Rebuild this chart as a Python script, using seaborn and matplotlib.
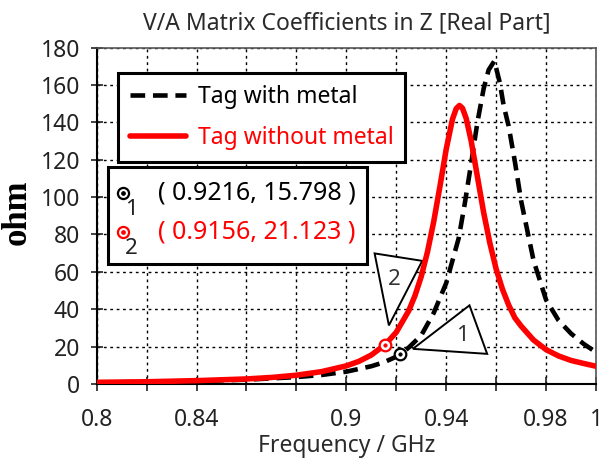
import matplotlib
matplotlib.use("Agg")
import matplotlib.pyplot as plt
import seaborn as sns
import pandas as pd
from matplotlib.patches import Polygon, Rectangle

# ---------------- data ----------------
red_freq = [0.80, 0.82, 0.84, 0.86, 0.87, 0.88, 0.89, 0.90, 0.905, 0.91, 0.9156,
            0.92, 0.925, 0.9275, 0.93, 0.9325, 0.935, 0.9375, 0.94, 0.9425, 0.944,
            0.9453, 0.9465, 0.948, 0.95, 0.9525, 0.955, 0.9575, 0.96, 0.9625, 0.965,
            0.9675, 0.97, 0.975, 0.98, 0.985, 0.99, 0.995, 1.00]
red_ohm = [0.9, 1.2, 1.8, 2.7, 3.5, 4.7, 6.6, 9.7, 12.1, 15.5, 21.123,
           27.7, 39.2, 47.3, 57.5, 70.7, 86.9, 105.8, 125.6, 141.6, 147.3,
           149.0, 147.6, 142.1, 130.0, 110.9, 91.7, 75.3, 61.5, 50.8, 42.3,
           35.4, 31.0, 23.5, 18.4, 15.0, 12.6, 11.0, 9.5]

blk_freq = [0.80, 0.82, 0.84, 0.86, 0.88, 0.89, 0.90, 0.91, 0.915, 0.92, 0.9216,
            0.925, 0.93, 0.935, 0.94, 0.945, 0.9475, 0.95, 0.9525, 0.955, 0.957,
            0.9593, 0.9615, 0.963, 0.965, 0.9675, 0.97, 0.975, 0.98, 0.985, 0.99,
            0.995, 1.00]
blk_ohm = [0.8, 1.1, 1.6, 2.3, 3.7, 4.8, 6.6, 9.5, 11.6, 14.6, 15.798,
           19.5, 26.0, 38.0, 54.0, 78.0, 97.0, 118.0, 140.0, 158.0, 168.0,
           172.8, 161.0, 149.0, 138.0, 119.0, 98.0, 66.0, 45.0, 34.0, 27.0,
           21.5, 17.0]

series_names = ["Tag with metal", "Tag without metal"]
marker_ids = ["1", "2"]
marker_freq = [0.9216, 0.9156]
marker_ohm = [15.798, 21.123]

x_ticks = [0.80, 0.82, 0.84, 0.86, 0.88, 0.90, 0.92, 0.94, 0.96, 0.98, 1.00]
x_tick_labels = ["0.8", "", "0.84", "", "", "0.9", "", "0.94", "", "0.98", "1"]
y_ticks = [0, 20, 40, 60, 80, 100, 120, 140, 160, 180]

title = "V/A Matrix Coefficients in Z [Real Part]"
x_label = "Frequency / GHz"
y_label = "ohm"

# ---------------- styling ----------------
sns.set_theme(style="white")
plt.rcParams["font.family"] = ["Noto Sans", "DejaVu Sans"]

W, H = 603, 461
FS = 16.5
RED = "#ff0000"

fig = plt.figure(figsize=(W / 100, H / 100), dpi=100)
fig.patch.set_facecolor("white")
ax = fig.add_axes([96.7 / W, 1 - 384 / H, (596 - 96.7) / W, (384 - 47.5) / H])


def fx(px):
    return px / W


def fy(py):
    return 1 - py / H


def to_data(px, py):
    return 0.8 + (px - 96.7) / 2500.0, (383.3 - py) / 1.8611


df_blk = pd.DataFrame({"Frequency": blk_freq, "ohm": blk_ohm})
df_red = pd.DataFrame({"Frequency": red_freq, "ohm": red_ohm})

sns.lineplot(data=df_blk, x="Frequency", y="ohm", ax=ax, color="black",
             linewidth=3.3, label=series_names[0], zorder=4)
line_blk = ax.lines[-1]
line_blk.set_dashes([3.2, 1.7])
sns.lineplot(data=df_red, x="Frequency", y="ohm", ax=ax, color=RED,
             linewidth=4.0, label=series_names[1], zorder=5)
line_red = ax.lines[-1]

# callout triangles
tri2 = [to_data(375, 253.3), to_data(422.7, 260.7), to_data(389.3, 325)]
tri1 = [to_data(413.3, 348.3), to_data(470, 305), to_data(487.7, 353.3)]
for tri in (tri1, tri2):
    ax.add_patch(Polygon(tri, closed=True, facecolor="white", edgecolor="black",
                         linewidth=1.4, zorder=3))
lx2, ly2 = to_data(394.3, 279.3)
lx1, ly1 = to_data(463.3, 335)
ax.text(lx2, ly2, marker_ids[1], fontsize=16, color="#333333", ha="center", va="center", zorder=3.5)
ax.text(lx1, ly1, marker_ids[0], fontsize=16, color="#333333", ha="center", va="center", zorder=3.5)

# markers on curves
mcols = ["black", RED]
for xm, ym, c in zip(marker_freq, marker_ohm, mcols):
    sns.scatterplot(x=[xm], y=[ym], ax=ax, s=70, facecolor="white", edgecolor=c,
                    linewidth=1.6, zorder=7, legend=False)
    sns.scatterplot(x=[xm], y=[ym], ax=ax, s=6, color=c, edgecolor=c,
                    linewidth=0.5, zorder=8, legend=False)

# axes setup
ax.set_xlim(0.8, 1.0)
ax.set_ylim(0, 180)
ax.set_xticks(x_ticks)
ax.set_xticklabels(x_tick_labels)
ax.set_yticks(y_ticks)
ax.grid(True, color="black", linestyle=(0, (2.0, 2.6)), linewidth=1.0)
ax.set_axisbelow(True)
ax.tick_params(axis="x", bottom=True, direction="inout", length=10, width=1.2,
               pad=12.5, labelsize=FS, colors="#222222")
ax.tick_params(axis="y", left=True, direction="inout", length=8, width=1.2,
               pad=8.0, labelsize=FS, colors="#222222")
for s in ("left", "bottom"):
    ax.spines[s].set_color("black")
    ax.spines[s].set_linewidth(1.5)
for s in ("top", "right"):
    ax.spines[s].set_color("#555555")
    ax.spines[s].set_linewidth(1.2)

ax.set_title(title, fontsize=FS, color="#2a2a2a", pad=13)
ax.set_xlabel(x_label, fontsize=FS, color="#2a2a2a", labelpad=1.0)
ax.set_ylabel(y_label, fontsize=25, fontweight="bold", family="Liberation Serif", color="black")
ax.yaxis.label.set_va("center")
ax.yaxis.set_label_coords((17 - 96.7) / 499.3, 1 - (212 - 47.5) / 336.5)

# legend 1
leg = ax.legend(handles=[line_blk, line_red], labels=series_names, loc="upper left",
                bbox_to_anchor=(fx(118.3), fy(72.7)), bbox_transform=fig.transFigure,
                borderaxespad=0, fancybox=False, framealpha=1, edgecolor="black",
                fontsize=FS, handlelength=2.45, handletextpad=0.5, borderpad=0.52,
                labelspacing=0.78)
leg.get_frame().set_linewidth(2.2)
for t, c in zip(leg.get_texts(), ["black", RED]):
    t.set_color(c)
leg.set_zorder(10)

# legend 2 (marker readouts)
ax.add_patch(Rectangle((fx(108.3), fy(264)), fx(366.7) - fx(108.3), fy(167.3) - fy(264),
                       transform=fig.transFigure, facecolor="white", edgecolor="black",
                       linewidth=2.2, zorder=10, clip_on=False))
rows_y = [193.3, 231.7]
for mid, xm, ym, c, ry in zip(marker_ids, marker_freq, marker_ohm, mcols, rows_y):
    ax.plot([fx(123.3)], [fy(ry)], transform=fig.transFigure, marker="o", ms=8,
            mfc="white", mec=c, mew=1.6, ls="none", clip_on=False, zorder=11)
    ax.plot([fx(123.3)], [fy(ry)], transform=fig.transFigure, marker="o", ms=2.4,
            color=c, ls="none", clip_on=False, zorder=12)
    ax.text(fx(131.7), fy(ry + 16.5), mid, transform=fig.transFigure, fontsize=16,
            color="#222222", ha="center", va="center", zorder=12)
    ax.text(fx(158), fy(ry), f"( {xm:.4f}, {ym:.3f} )", transform=fig.transFigure,
            fontsize=18, color=c, ha="left", va="center", zorder=12)

fig.savefig("out.png", dpi=100)
